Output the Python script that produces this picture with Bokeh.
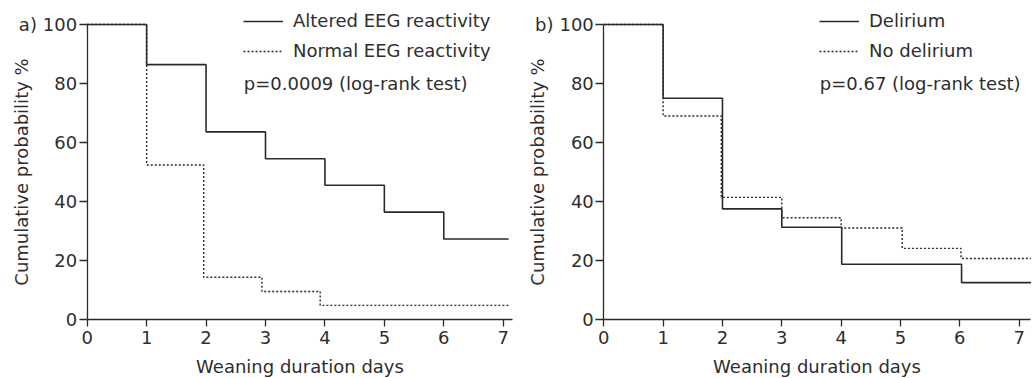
from bokeh.plotting import figure
from bokeh.models import Legend, LegendItem, Label, FixedTicker, Range1d
from bokeh.layouts import row
from bokeh.embed import file_html
from bokeh.resources import INLINE

# ---- data ----
# panel a
altered_days = [0, 1, 2, 3, 4, 5, 6, 7.09]
altered_prob = [100, 86.4, 63.6, 54.5, 45.5, 36.4, 27.3, 27.3]
normal_days = [0, 1, 1.96, 2.94, 3.92, 7.12]
normal_prob = [100, 52.4, 14.3, 9.5, 4.8, 4.8]
# panel b
delirium_days = [0, 1, 2, 3, 4.01, 6.03, 7.2]
delirium_prob = [100, 75.0, 37.5, 31.25, 18.75, 12.5, 12.5]
nodel_days = [0, 1, 1.98, 3, 4, 5.03, 6.02, 7.2]
nodel_prob = [100, 69.0, 41.4, 34.5, 31.0, 24.1, 20.7, 20.7]

x_ticks = [0, 1, 2, 3, 4, 5, 6, 7]
y_ticks = [0, 20, 40, 60, 80, 100]

FONT = "DejaVu Sans"
TXT = "#2e2e2e"
LINE = "#2a2a2a"
FS = "18px"


def make_panel(width, xr, xbound, s1, s2, names, ptext, tag, leg_x):
    p = figure(width=width, height=378, output_backend="svg", toolbar_location=None,
               x_range=Range1d(*xr), y_range=Range1d(-20.0, 108.14),
               min_border_left=0, min_border_right=0,
               min_border_top=0, min_border_bottom=0)
    p.outline_line_color = None
    p.grid.visible = False
    p.background_fill_color = "white"
    p.border_fill_color = "white"
    for ax in (p.xaxis[0], p.yaxis[0]):
        ax.fixed_location = 0
        ax.axis_line_color = LINE
        ax.axis_line_width = 1.3
        ax.major_tick_line_color = LINE
        ax.major_tick_line_width = 1.3
        ax.minor_tick_line_color = None
        ax.major_label_text_font = FONT
        ax.major_label_text_font_size = FS
        ax.major_label_text_color = TXT
        ax.axis_label_text_font = FONT
        ax.axis_label_text_font_size = FS
        ax.axis_label_text_font_style = "normal"
        ax.axis_label_text_color = TXT
    p.xaxis.bounds = (0, xbound)
    p.yaxis.bounds = (0, 100)
    p.xaxis.ticker = FixedTicker(ticks=x_ticks)
    p.yaxis.ticker = FixedTicker(ticks=y_ticks)
    p.xaxis.major_tick_out = 7
    p.xaxis.major_tick_in = 0
    p.yaxis.major_tick_out = 8
    p.yaxis.major_tick_in = 0
    p.xaxis.major_label_standoff = 4
    p.yaxis.major_label_standoff = 2
    p.xaxis.axis_label_standoff = 9
    p.yaxis.axis_label_standoff = 8
    p.xaxis.axis_label = "Weaning duration days"
    p.yaxis.axis_label = "Cumulative probability %"

    r1 = p.step(s1[0], s1[1], mode="after", line_color=LINE, line_width=1.6)
    r2 = p.step(s2[0], s2[1], mode="after", line_color=LINE, line_width=1.4, line_dash="2 2")

    leg = Legend(items=[LegendItem(label=names[0], renderers=[r1]),
                        LegendItem(label=names[1], renderers=[r2])],
                 location=(leg_x, 317), padding=0, margin=0, spacing=9,
                 glyph_width=40, glyph_height=20, label_height=20, label_standoff=10,
                 label_text_font=FONT, label_text_font_size=FS, label_text_color=TXT,
                 background_fill_alpha=0, border_line_color=None)
    p.add_layout(leg, "center")

    p.add_layout(Label(x=ptext[0], y=80, text=ptext[1], text_font=FONT, text_font_size=FS,
                       text_color=TXT, text_baseline="middle", text_align="left"))
    p.add_layout(Label(x=tag[0], y=100, text=tag[1], text_font=FONT, text_font_size=FS,
                       text_color=TXT, text_baseline="middle", text_align="left"))
    return p


pa = make_panel(523, (-1.4589, 7.3414), 7.15, (altered_days, altered_prob), (normal_days, normal_prob),
                ["Altered EEG reactivity", "Normal EEG reactivity"],
                (2.635, "p=0.0009 (log-rank test)"), (-1.15, "a)"), 243)
pb = make_panel(513, (-1.3534, 7.2931), 7.2, (delirium_days, delirium_prob), (nodel_days, nodel_prob),
                ["Delirium", "No delirium"],
                (3.64, "p=0.67 (log-rank test)"), (-1.16, "b)"), 296)

layout = row(pa, pb)
open("out.html", "w").write(file_html(layout, INLINE))
